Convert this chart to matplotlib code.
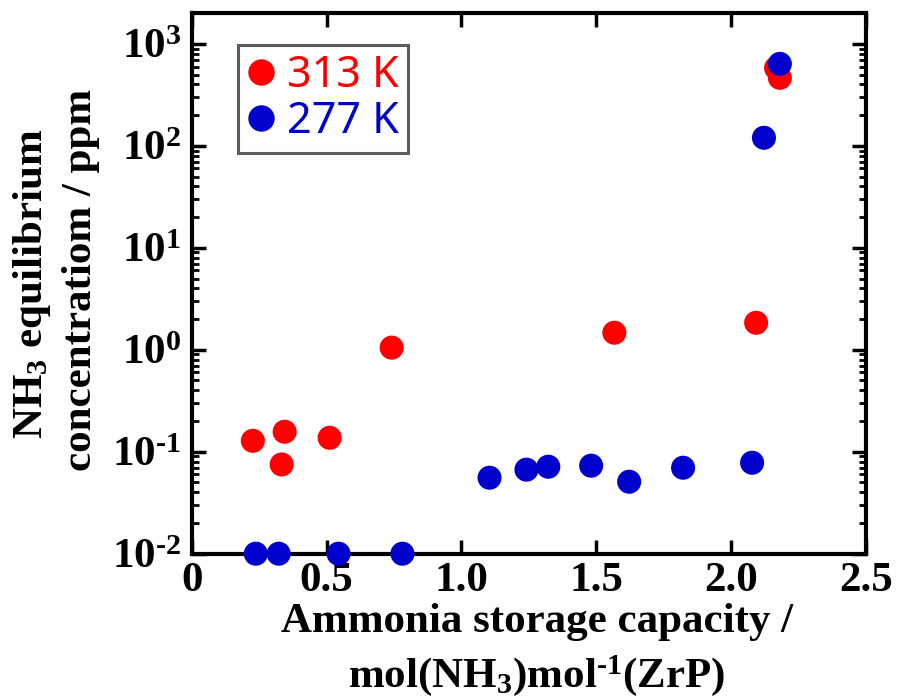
import numpy as np
import matplotlib
matplotlib.use("Agg")
import matplotlib.pyplot as plt
from matplotlib.lines import Line2D
from matplotlib.ticker import LogLocator, FixedLocator, NullFormatter

plt.rcParams["font.family"] = "Liberation Serif"
plt.rcParams["font.weight"] = "bold"
plt.rcParams["mathtext.fontset"] = "custom"
plt.rcParams["mathtext.rm"] = "Liberation Serif:bold"
plt.rcParams["mathtext.it"] = "Liberation Serif:bold"
plt.rcParams["mathtext.bf"] = "Liberation Serif:bold"

# 313 K
x_313 = [0.226, 0.344, 0.333, 0.511, 0.741, 1.567, 2.093, 2.167, 2.181]
y_313 = [0.128, 0.157, 0.075, 0.137, 1.05, 1.47, 1.84, 580, 465]
# 277 K
x_277 = [0.237, 0.322, 0.544, 0.781, 1.104, 1.241, 1.322, 1.481, 1.622, 1.822, 2.078, 2.122, 2.181]
y_277 = [0.01, 0.01, 0.01, 0.01, 0.0556, 0.0667, 0.0713, 0.073, 0.0508, 0.0697, 0.078, 120, 637]

x_ticks = [0, 0.5, 1.0, 1.5, 2.0, 2.5]
x_ticklabels = ["0", "0.5", "1.0", "1.5", "2.0", "2.5"]
y_exps = [-2, -1, 0, 1, 2, 3]

RED = "#ff0000"
BLUE = "#0000cc"

fig = plt.figure(figsize=(9.01, 7.00), dpi=100)
ax = fig.add_axes([0.213, 0.209, 0.748, 0.772])

ax.scatter(x_313, y_313, s=300, color=RED, edgecolors="none", zorder=3, clip_on=False)
ax.scatter(x_277, y_277, s=300, color=BLUE, edgecolors="none", zorder=4, clip_on=False)

ax.set_yscale("log")
ax.set_xlim(0, 2.5)
ax.set_ylim(1e-2, 10 ** 3.30)

ax.xaxis.set_major_locator(FixedLocator(x_ticks))
ax.set_xticklabels(x_ticklabels)
ax.set_yticks([10.0 ** e for e in y_exps])
ax.set_yticklabels([r"$10^{\text{%d}}$" % e for e in y_exps])
ax.yaxis.set_minor_locator(LogLocator(base=10, subs=np.arange(2, 10)))
ax.yaxis.set_minor_formatter(NullFormatter())

for s in ax.spines.values():
    s.set_linewidth(3)
ax.tick_params(which="major", direction="in", top=True, right=True,
               length=10, width=2.5, labelsize=31, pad=6)
ax.tick_params(which="minor", direction="in", left=True, right=True,
               length=5, width=2)
ax.tick_params(axis="x", which="minor", bottom=False, top=False)
ax.tick_params(axis="y", which="major", pad=8)

# axis titles
fig.text(0.596, 0.112, "Ammonia storage capacity /", ha="center", va="center",
         fontsize=31, fontweight="bold")
fig.text(0.596, 0.035, r"mol(NH$_3$)mol$^{\text{-1}}$(ZrP)", ha="center", va="center",
         fontsize=31, fontweight="bold")
fig.text(0.036, 0.595, r"NH$_3$ equilibrium", ha="center", va="center",
         rotation=90, fontsize=31, fontweight="bold")
fig.text(0.090, 0.600, "concentratiom / ppm", ha="center", va="center",
         rotation=90, fontsize=31, fontweight="bold")

handles = [
    Line2D([], [], ls="none", marker="o", ms=19, color=RED, mec="none"),
    Line2D([], [], ls="none", marker="o", ms=19, color=BLUE, mec="none"),
]
leg = ax.legend(handles, ["313 K", "277 K"], loc="upper left",
                bbox_to_anchor=(0.068, 0.941), borderaxespad=0, frameon=True,
                fancybox=False, handlelength=0.7, handletextpad=0.25,
                borderpad=0.2, labelspacing=0.05,
                prop={"family": "Noto Sans", "weight": "light", "size": 31})
leg.get_frame().set_edgecolor("#333333")
leg.get_frame().set_linewidth(2.2)
for t, c in zip(leg.get_texts(), [RED, BLUE]):
    t.set_color(c)

fig.savefig("out.png", dpi=100)
